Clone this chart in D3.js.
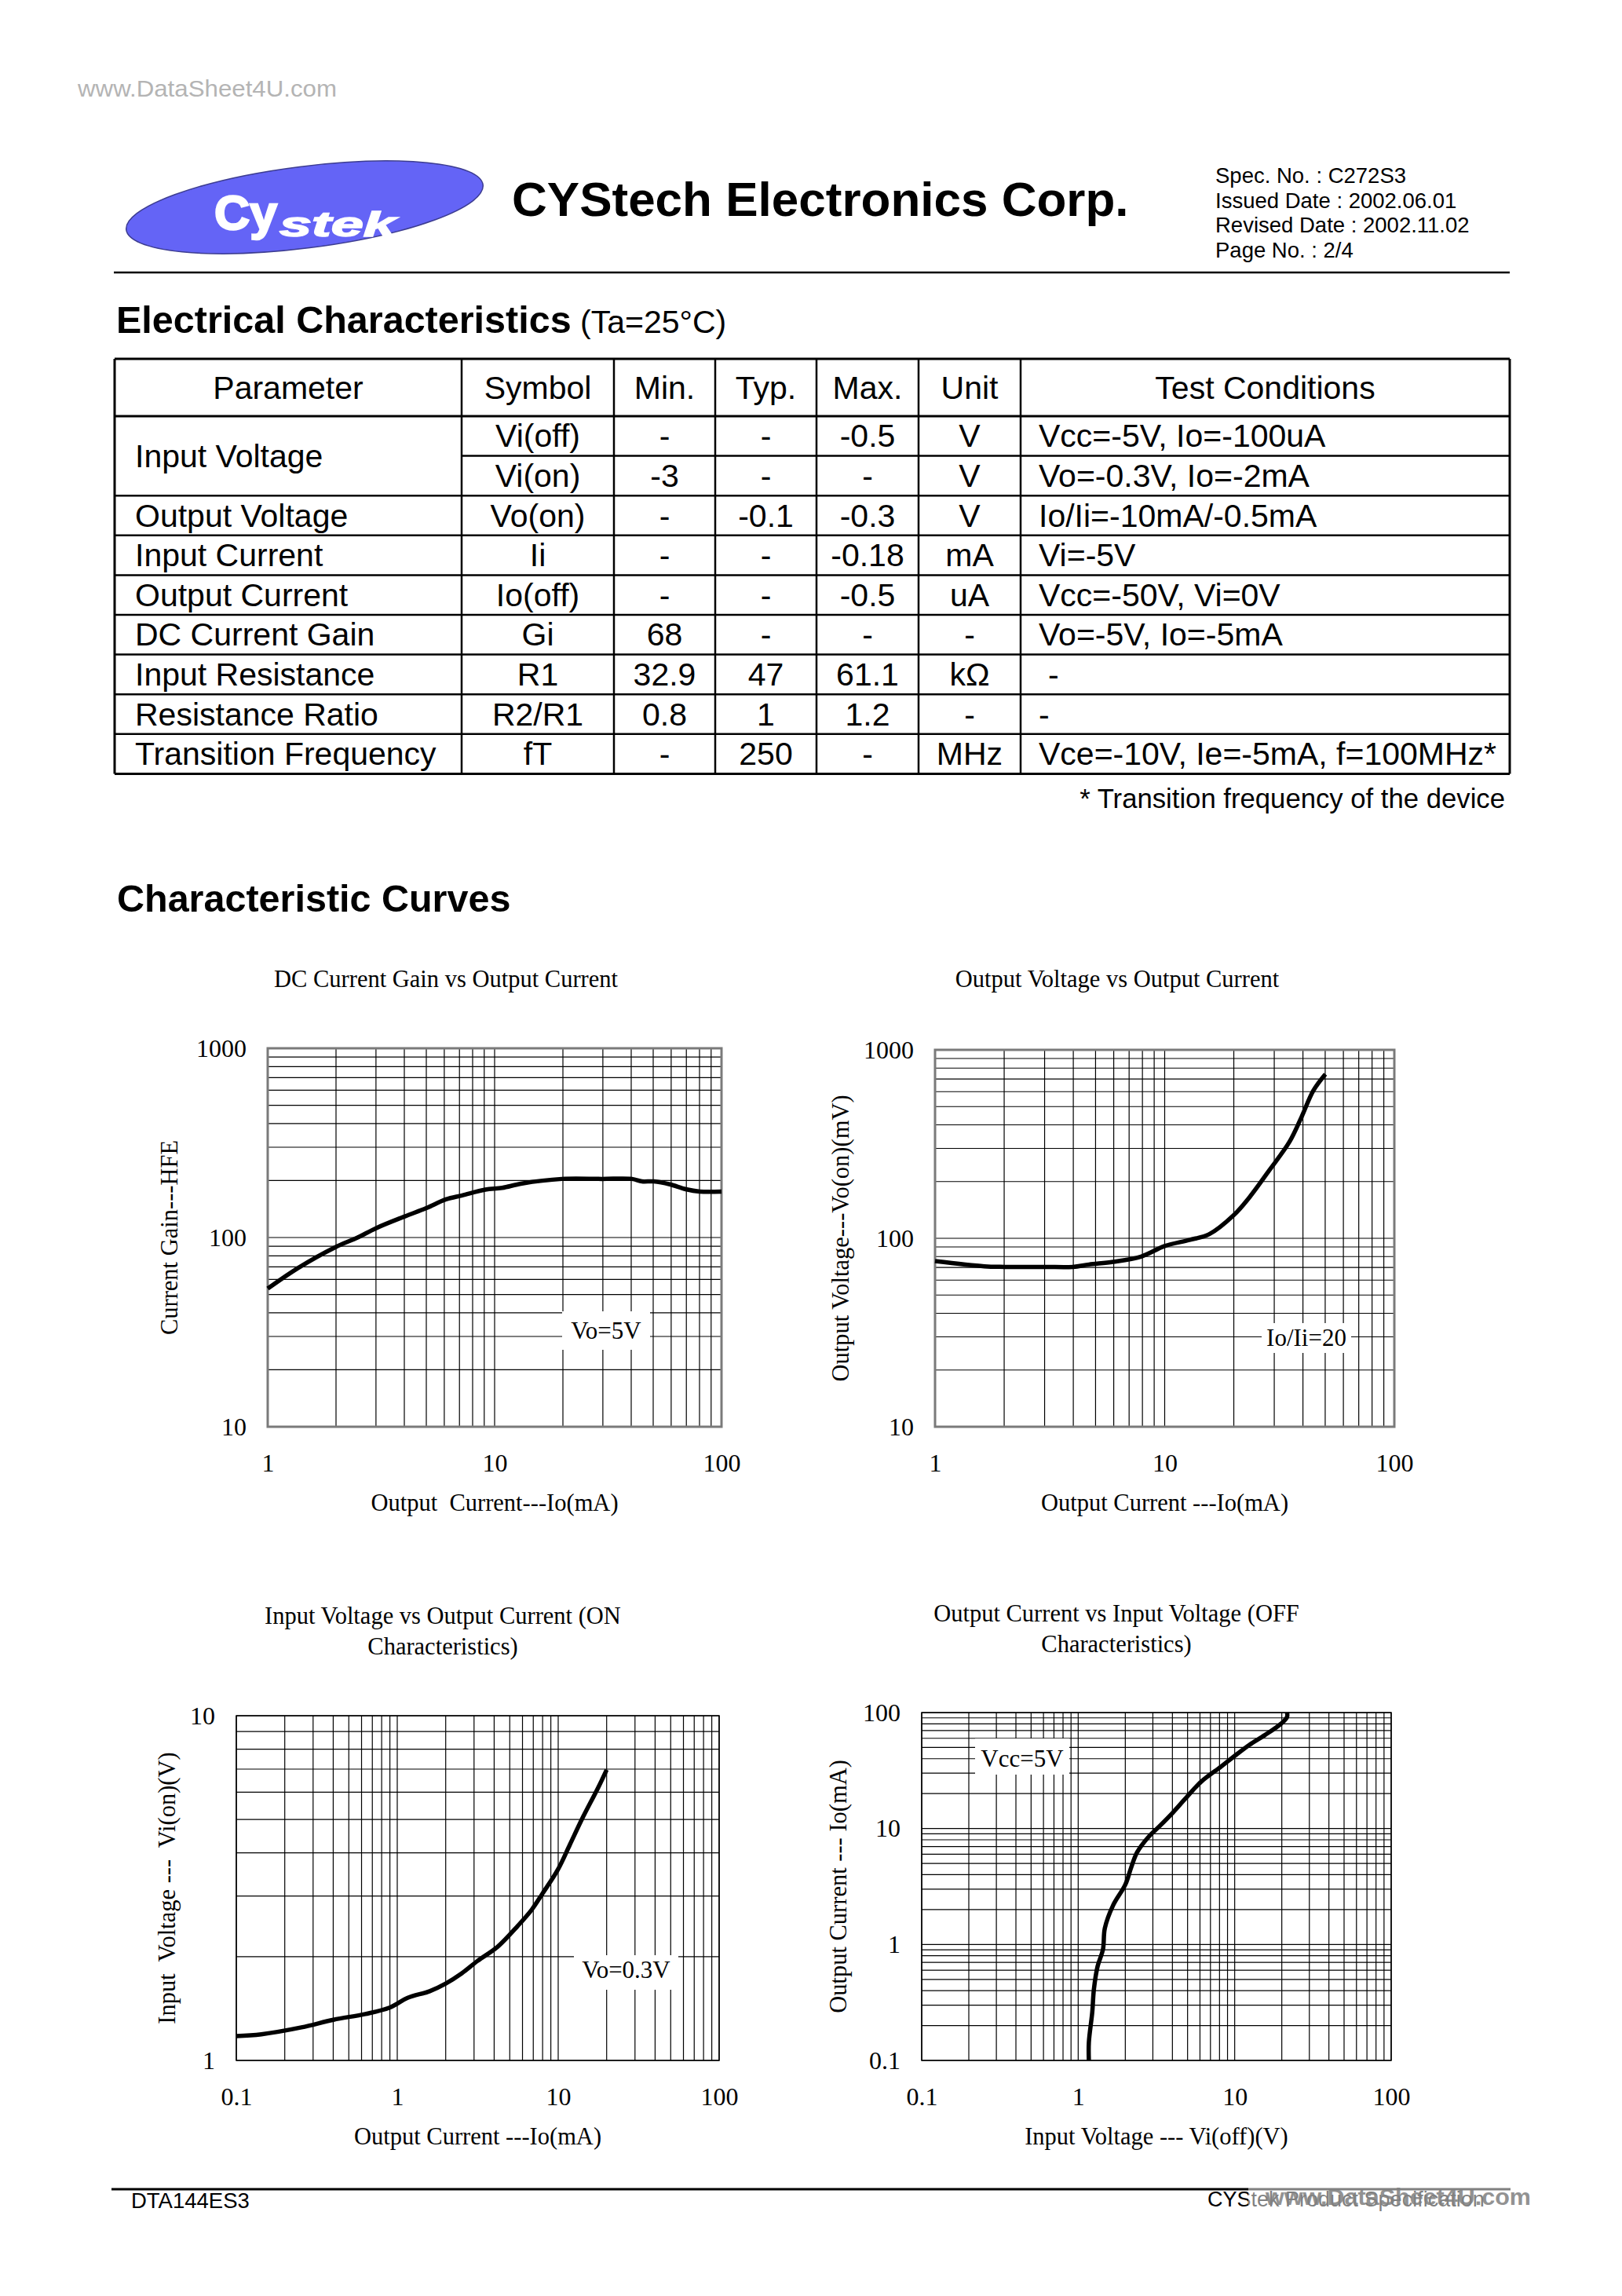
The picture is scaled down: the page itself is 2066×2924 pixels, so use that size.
<!DOCTYPE html>
<html><head><meta charset="utf-8">
<script src="https://cdn.jsdelivr.net/npm/d3@7"></script>
<style>html,body{margin:0;padding:0;background:#fff} svg{display:block}</style>
</head><body>
<script>
// ================= DATA =================
const specLines = ["Spec. No. : C272S3", "Issued Date : 2002.06.01", "Revised Date : 2002.11.02", "Page No. : 2/4"];
const tableHeaders = ["Parameter", "Symbol", "Min.", "Typ.", "Max.", "Unit", "Test Conditions"];
const paramNames = ["Input Voltage", "", "Output Voltage", "Input Current", "Output Current", "DC Current Gain", "Input Resistance", "Resistance Ratio", "Transition Frequency"];
const symbols = ["Vi(off)", "Vi(on)", "Vo(on)", "Ii", "Io(off)", "Gi", "R1", "R2/R1", "fT"];
const minVals = ["-", "-3", "-", "-", "-", "68", "32.9", "0.8", "-"];
const typVals = ["-", "-", "-0.1", "-", "-", "-", "47", "1", "250"];
const maxVals = ["-0.5", "-", "-0.3", "-0.18", "-0.5", "-", "61.1", "1.2", "-"];
const units = ["V", "V", "V", "mA", "uA", "-", "kΩ", "-", "MHz"];
const conditions = ["Vcc=-5V, Io=-100uA", "Vo=-0.3V, Io=-2mA", "Io/Ii=-10mA/-0.5mA", "Vi=-5V", "Vcc=-50V, Vi=0V", "Vo=-5V, Io=-5mA", "-", "-", "Vce=-10V, Ie=-5mA, f=100MHz*"];

// Chart 1: DC current gain vs output current
const gainIo  = [1, 1.36, 1.99, 2.49, 3, 4, 5, 6.1, 7.2, 9.1, 10.8, 13.2, 19.8, 29.7, 40.3, 44.6, 50.3, 59.2, 69.6, 80.3, 100];
const gainHfe = [53.7, 69, 89, 100, 112, 129, 143, 159, 167, 179, 183, 193, 204, 204, 204, 198, 198, 191, 180, 175, 175];
// Chart 2: output voltage vs output current
const vonIo = [1, 1.64, 2.01, 3, 3.98, 4.68, 5.96, 7.89, 10, 12.8, 15.6, 19.9, 23.3, 28.5, 34.9, 39.4, 44.4, 50.1];
const vonMv = [75.7, 71, 70.5, 70.5, 70.5, 72.6, 75, 80, 91, 98, 105, 132, 164, 229, 324, 439, 608, 743];
// Chart 3: input voltage vs output current (ON)
const vionIo = [0.1, 0.143, 0.254, 0.401, 0.634, 0.896, 1.16, 1.59, 2.0, 2.51, 3.16, 4.21, 5.61, 6.86, 7.92, 9.96, 11.8, 14.1, 17.7, 20.0];
const vionV  = [1.177, 1.191, 1.247, 1.312, 1.364, 1.423, 1.519, 1.588, 1.671, 1.788, 1.945, 2.138, 2.457, 2.74, 3.03, 3.58, 4.22, 5.03, 6.18, 6.97];
// Chart 4: output current vs input voltage (OFF)
const voffV  = [1.17, 1.17, 1.23, 1.26, 1.33, 1.44, 1.48, 1.67, 2.0, 2.18, 2.38, 2.81, 3.29, 4.04, 4.82, 6.1, 8.18, 9.77, 12.4, 15.6, 19.8, 21.6, 21.6];
const voffIo = [0.1, 0.143, 0.261, 0.411, 0.647, 0.908, 1.38, 2.17, 3.28, 4.61, 6.24, 8.45, 10.4, 13.8, 18.0, 25.3, 34.2, 41.3, 52.6, 64, 80.3, 91.4, 100];

// tick values
const ticksGainX = [1, 10, 100], ticksGainY = [10, 100, 1000];
const ticksVonX = [1, 10, 100], ticksVonY = [10, 100, 1000];
const ticksVionX = [0.1, 1, 10, 100], ticksVionY = [1, 10];
const ticksVoffX = [0.1, 1, 10, 100], ticksVoffY = [0.1, 1, 10, 100];

// ================= DRAW =================
const W = 2066, H = 2924;
const SANS = "'Liberation Sans', Arial, Helvetica, sans-serif";
const SERIF = "'Liberation Serif', 'Times New Roman', serif";
const svg = d3.select("body").append("svg").attr("width", W).attr("height", H)
  .attr("viewBox", `0 0 ${W} ${H}`);
svg.append("rect").attr("width", W).attr("height", H).attr("fill", "#fff");

// watermark top-left
svg.append("text").attr("x", 99).attr("y", 123).text("www.DataSheet4U.com")
  .attr("font-family", SANS).attr("font-size", 29).attr("fill", "#b4b4b4")
  .attr("textLength", 330).attr("lengthAdjust", "spacingAndGlyphs");

// logo
const logo = svg.append("g");
logo.append("ellipse").attr("cx", 388).attr("cy", 264).attr("rx", 229).attr("ry", 52)
  .attr("transform", "rotate(-7.2 388 264)")
  .attr("fill", "#6464f6").attr("stroke", "#3c3c90").attr("stroke-width", 1.5);
logo.append("text").attr("x", 273).attr("y", 292).text("Cy")
  .attr("font-family", SANS).attr("font-weight", "bold").attr("font-size", 62).attr("fill", "#fff")
  .attr("stroke", "#fff").attr("stroke-width", 2.5)
  .attr("textLength", 80).attr("lengthAdjust", "spacingAndGlyphs");
logo.append("text").attr("x", 356).attr("y", 301).text("stek")
  .attr("font-family", SANS).attr("font-weight", "bold").attr("font-style", "italic").attr("font-size", 44).attr("fill", "#fff")
  .attr("stroke", "#fff").attr("stroke-width", 1.5)
  .attr("textLength", 148).attr("lengthAdjust", "spacingAndGlyphs");

// company title
svg.append("text").attr("x", 652).attr("y", 275).text("CYStech Electronics Corp.")
  .attr("font-family", SANS).attr("font-weight", "bold").attr("font-size", 62).attr("fill", "#000");

// spec lines
svg.selectAll("text.spec").data(specLines).join("text").attr("class", "spec")
  .attr("x", 1548).attr("y", (d, i) => 233 + i * 31.6).text(d => d)
  .attr("font-family", SANS).attr("font-size", 27.5).attr("fill", "#000");

// header rule
svg.append("line").attr("x1", 145).attr("x2", 1923).attr("y1", 347).attr("y2", 347)
  .attr("stroke", "#000").attr("stroke-width", 2.5);

// section heading
const eh = svg.append("text").attr("x", 148).attr("y", 424).attr("font-family", SANS).attr("fill", "#000");
eh.append("tspan").attr("font-weight", "bold").attr("font-size", 48.5).text("Electrical Characteristics");
eh.append("tspan").attr("font-size", 41).text(" (Ta=25°C)");

// ---------- table ----------
const colX = [146, 588, 782, 911, 1040, 1170, 1300, 1923];
const tTop = 457, headBottom = 530, rowH = 50.6, nRows = 9;
const rowY = i => headBottom + i * rowH;
const tBottom = rowY(nRows);
const tg = svg.append("g").attr("font-family", SANS).attr("font-size", 41).attr("fill", "#000");
colX.forEach((x, i) => {
  const outer = i === 0 || i === colX.length - 1;
  tg.append("line").attr("x1", x).attr("x2", x).attr("y1", tTop).attr("y2", tBottom)
    .attr("stroke", "#000").attr("stroke-width", outer ? 3 : 2.5);
});
tg.append("line").attr("x1", colX[0]).attr("x2", colX[7]).attr("y1", tTop).attr("y2", tTop).attr("stroke", "#000").attr("stroke-width", 3);
for (let i = 0; i <= nRows; i++) {
  const y = rowY(i);
  const x1 = (i === 1) ? colX[1] : colX[0];
  tg.append("line").attr("x1", x1).attr("x2", colX[7]).attr("y1", y).attr("y2", y)
    .attr("stroke", "#000").attr("stroke-width", (i === 0 || i === nRows) ? 3 : 2.5);
}
tableHeaders.forEach((h, i) => {
  tg.append("text").attr("x", (colX[i] + colX[i + 1]) / 2).attr("y", (tTop + headBottom) / 2 + 14)
    .attr("text-anchor", "middle").text(h);
});
for (let r = 0; r < nRows; r++) {
  const base = (rowY(r) + rowY(r + 1)) / 2 + 14;
  if (paramNames[r]) {
    const pb = r === 0 ? (rowY(0) + rowY(2)) / 2 + 14 : base;
    tg.append("text").attr("x", colX[0] + 26).attr("y", pb).text(paramNames[r]);
  }
  [symbols, minVals, typVals, maxVals, units].forEach((arr, k) => {
    tg.append("text").attr("x", (colX[k + 1] + colX[k + 2]) / 2).attr("y", base)
      .attr("text-anchor", "middle").text(arr[r]);
  });
  tg.append("text").attr("x", colX[6] + 23 + (r === 6 ? 12 : 0)).attr("y", base).text(conditions[r]);
}
svg.append("text").attr("x", 1917).attr("y", 1029).attr("text-anchor", "end")
  .attr("font-family", SANS).attr("font-size", 34.7).attr("fill", "#000")
  .text("* Transition frequency of the device");

// section heading 2
svg.append("text").attr("x", 149).attr("y", 1161).text("Characteristic Curves")
  .attr("font-family", SANS).attr("font-weight", "bold").attr("font-size", 48.5).attr("fill", "#000");

// ---------- charts ----------
function logGrid(dom) {
  const out = [];
  const e0 = Math.round(Math.log10(dom[0])), e1 = Math.round(Math.log10(dom[1]));
  for (let e = e0; e < e1; e++) for (let k = 1; k <= 9; k++) out.push(+(k * Math.pow(10, e)).toPrecision(6));
  out.push(dom[1]);
  return out;
}
const fmt = d => String(+d.toPrecision(6));

function drawChart(c) {
  const x = d3.scaleLog().domain(c.xDomain).range([c.left, c.right]);
  const y = d3.scaleLog().domain(c.yDomain).range([c.bottom, c.top]);
  const g = svg.append("g");
  const grid = g.append("g").attr("stroke", "#000").attr("stroke-width", 1.2);
  logGrid(c.xDomain).forEach(v => grid.append("line").attr("x1", x(v)).attr("x2", x(v))
    .attr("y1", c.top).attr("y2", c.bottom));
  logGrid(c.yDomain).forEach(v => grid.append("line").attr("x1", c.left).attr("x2", c.right)
    .attr("y1", y(v)).attr("y2", y(v)));
  g.append("rect").attr("x", c.left).attr("y", c.top).attr("width", c.right - c.left).attr("height", c.bottom - c.top)
    .attr("fill", "none").attr("stroke", c.frameColor).attr("stroke-width", c.frameWidth);
  const a = c.note;
  g.append("rect").attr("x", a.x0).attr("y", a.y0).attr("width", a.x1 - a.x0).attr("height", a.y1 - a.y0).attr("fill", "#fff");
  g.append("text").attr("x", (a.x0 + a.x1) / 2).attr("y", a.base).attr("text-anchor", "middle")
    .attr("font-family", SERIF).attr("font-size", 31).attr("fill", "#000").text(a.text);
  const pts = c.xs.map((v, i) => [v, c.ys[i]]);
  g.append("path").datum(pts)
    .attr("d", d3.line().x(d => x(d[0])).y(d => y(d[1])).curve(d3.curveCatmullRom.alpha(0.5)))
    .attr("fill", "none").attr("stroke", "#000").attr("stroke-width", 5.5)
    .attr("stroke-linejoin", "round").attr("stroke-linecap", "butt");
  const ax = g.append("g").attr("transform", `translate(0,${c.bottom})`)
    .call(d3.axisBottom(x).tickValues(c.xTicks).tickFormat(fmt).tickSize(0).tickPadding(34));
  const ay = g.append("g").attr("transform", `translate(${c.left},0)`)
    .call(d3.axisLeft(y).tickValues(c.yTicks).tickFormat(fmt).tickSize(0).tickPadding(27));
  [ax, ay].forEach(s => {
    s.select(".domain").remove();
    s.attr("font-family", SERIF).attr("font-size", 32);
    s.selectAll("text").attr("fill", "#000");
  });
  g.append("text").attr("x", (c.left + c.right) / 2).attr("y", c.bottom + 107).attr("text-anchor", "middle")
    .attr("font-family", SERIF).attr("font-size", 30.5).attr("fill", "#000").attr("xml:space", "preserve").text(c.xLabel);
  const cy = (c.top + c.bottom) / 2;
  g.append("text").attr("transform", `translate(${c.yLabelX},${cy}) rotate(-90)`).attr("text-anchor", "middle")
    .attr("dominant-baseline", "central")
    .attr("font-family", SERIF).attr("font-size", 30.5).attr("fill", "#000").attr("xml:space", "preserve").text(c.yLabel);
  c.title.forEach((t, i) => {
    g.append("text").attr("x", c.titleX).attr("y", c.titleY + i * 39).attr("text-anchor", "middle")
      .attr("font-family", SERIF).attr("font-size", 30.5).attr("fill", "#000").text(t);
  });
}

drawChart({
  xDomain: [1, 100], yDomain: [10, 1000], left: 341, right: 919, top: 1335, bottom: 1817,
  xs: gainIo, ys: gainHfe, xTicks: ticksGainX, yTicks: ticksGainY,
  frameColor: "#7a7a7a", frameWidth: 3,
  note: { x0: 716, x1: 828, y0: 1670, y1: 1719, base: 1705, text: "Vo=5V" },
  xLabel: "Output  Current---Io(mA)", yLabel: "Current Gain---HFE", yLabelX: 216,
  title: ["DC Current Gain vs Output Current"], titleX: 568, titleY: 1257
});
drawChart({
  xDomain: [1, 100], yDomain: [10, 1000], left: 1191, right: 1776, top: 1337, bottom: 1817,
  xs: vonIo, ys: vonMv, xTicks: ticksVonX, yTicks: ticksVonY,
  frameColor: "#7a7a7a", frameWidth: 3,
  note: { x0: 1607, x1: 1721, y0: 1685, y1: 1723, base: 1714, text: "Io/Ii=20" },
  xLabel: "Output Current ---Io(mA)", yLabel: "Output Voltage---Vo(on)(mV)", yLabelX: 1071,
  title: ["Output Voltage vs Output Current"], titleX: 1423, titleY: 1257
});
drawChart({
  xDomain: [0.1, 100], yDomain: [1, 10], left: 301, right: 916, top: 2185, bottom: 2624,
  xs: vionIo, ys: vionV, xTicks: ticksVionX, yTicks: ticksVionY,
  frameColor: "#000", frameWidth: 1.5,
  note: { x0: 731, x1: 864, y0: 2490, y1: 2534, base: 2519, text: "Vo=0.3V" },
  xLabel: "Output Current ---Io(mA)", yLabel: "Input  Voltage ---  Vi(on)(V)", yLabelX: 213,
  title: ["Input Voltage vs Output Current (ON", "Characteristics)"], titleX: 564, titleY: 2068
});
drawChart({
  xDomain: [0.1, 100], yDomain: [0.1, 100], left: 1174, right: 1772, top: 2181, bottom: 2624,
  xs: voffV, ys: voffIo, xTicks: ticksVoffX, yTicks: ticksVoffY,
  frameColor: "#000", frameWidth: 1.5,
  note: { x0: 1242, x1: 1362, y0: 2214, y1: 2260, base: 2250, text: "Vcc=5V" },
  xLabel: "Input Voltage --- Vi(off)(V)", yLabel: "Output Current --- Io(mA)", yLabelX: 1068,
  title: ["Output Current vs Input Voltage (OFF", "Characteristics)"], titleX: 1422, titleY: 2065
});

// ---------- footer ----------
svg.append("line").attr("x1", 142).attr("x2", 1924).attr("y1", 2788).attr("y2", 2788)
  .attr("stroke", "#000").attr("stroke-width", 3);
svg.append("text").attr("x", 167).attr("y", 2812).text("DTA144ES3")
  .attr("font-family", SANS).attr("font-size", 27.5).attr("fill", "#000");
svg.append("text").attr("x", 1538).attr("y", 2810).text("CYStek Product Specification")
  .attr("font-family", SANS).attr("font-size", 27).attr("fill", "#000");
// watermark bottom-right (semi-transparent, overlapping the footer as in the source)
svg.append("rect").attr("x", 1590).attr("y", 2782).attr("width", 372).attr("height", 36)
  .attr("fill", "#fff").attr("opacity", 0.5);
svg.append("text").attr("x", 1612).attr("y", 2808).text("www.DataSheet4U.com")
  .attr("font-family", SANS).attr("font-weight", "bold").attr("font-size", 30).attr("fill", "#808080")
  .attr("opacity", 0.85).attr("textLength", 338).attr("lengthAdjust", "spacingAndGlyphs");
</script>
</body></html>
